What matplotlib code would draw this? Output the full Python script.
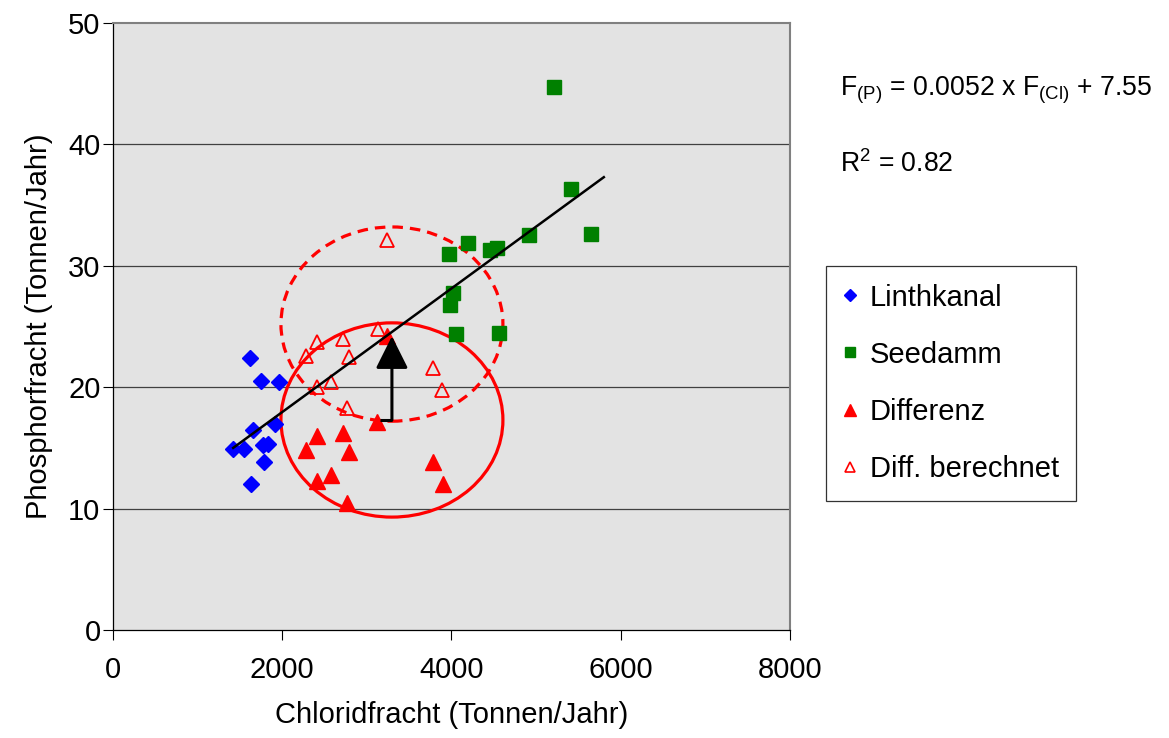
import matplotlib
matplotlib.use("Agg")
import matplotlib.pyplot as plt
from matplotlib.patches import Ellipse, FancyArrowPatch
from matplotlib.lines import Line2D

plt.rcParams['font.family'] = ['Liberation Sans', 'DejaVu Sans']
plt.rcParams['mathtext.fontset'] = 'custom'
plt.rcParams['mathtext.rm'] = 'Liberation Sans'

# ---- data ----
linth_x = [1618, 1748, 1961, 1654, 1914, 1418, 1548, 1772, 1831, 1784, 1630]
linth_y = [22.4, 20.5, 20.4, 16.5, 17.0, 14.9, 14.9, 15.2, 15.3, 13.8, 12.0]

seed_x = [5210, 5410, 5647, 4914, 4194, 3969, 4454, 4536, 4016, 3981, 4052, 4560]
seed_y = [44.7, 36.3, 32.6, 32.5, 31.9, 31.0, 31.3, 31.5, 27.8, 26.8, 24.4, 24.5]

diff_x = [3236, 3119, 2410, 2717, 2280, 2788, 2410, 2575, 2764, 3780, 3898]
diff_y = [24.2, 17.1, 16.0, 16.2, 14.8, 14.7, 12.3, 12.8, 10.5, 13.8, 12.0]

calc_x = [3130, 3237, 2410, 2717, 2280, 2788, 2410, 2575, 2764, 3780, 3887]
calc_y = [24.8, 32.1, 23.7, 24.0, 22.6, 22.5, 20.0, 20.4, 18.3, 21.6, 19.8]

trend_x = [1420, 5800]
trend_y = [15.0, 37.3]

ell_center_x = 3296
ell_solid_y = 17.3
ell_dashed_y = 25.2
ell_w = 2623
ell_h = 16.0

arrow_x0, arrow_y0 = 3150, 17.3
arrow_x1, arrow_y1 = 3296, 24.2

x_ticks = [0, 2000, 4000, 6000, 8000]
y_ticks = [0, 10, 20, 30, 40, 50]

W, H = 1169, 738
fig = plt.figure(figsize=(W / 100, H / 100), dpi=100)
ax = fig.add_axes([113 / W, 1 - 630 / H, (790 - 113) / W, (630 - 23) / H])
ax.set_facecolor('#E3E3E3')
ax.set_xlim(0, 8000)
ax.set_ylim(0, 50)
ax.set_xticks(x_ticks)
ax.set_yticks(y_ticks)
ax.tick_params(axis='both', labelsize=21, direction='out', length=7, width=0.8, color='black')
ax.tick_params(axis='y', pad=2)
ax.tick_params(axis='x', pad=12)
for yv in y_ticks[1:-1]:
    ax.axhline(yv, color='#404040', lw=0.9, zorder=1)
for s in ['left', 'bottom']:
    ax.spines[s].set_color('black')
    ax.spines[s].set_linewidth(0.9)
for s in ['top', 'right']:
    ax.spines[s].set_color('#808080')
    ax.spines[s].set_linewidth(1.5)

ax.set_xlabel('Chloridfracht (Tonnen/Jahr)', fontsize=21, labelpad=12)
ax.set_ylabel('Phosphorfracht (Tonnen/Jahr)', fontsize=21, labelpad=11)

ax.add_patch(Ellipse((ell_center_x, ell_solid_y), ell_w, ell_h, fill=False,
                     ec='#FF0000', lw=2.3, zorder=3))
ax.add_patch(Ellipse((ell_center_x, ell_dashed_y), ell_w, ell_h, fill=False,
                     ec='#FF0000', lw=2.3, ls=(0, (3.3, 2.2)), zorder=3))

ax.plot(linth_x, linth_y, ls='none', marker='D', ms=7.8, color='#0000FF', mec='#0000FF', zorder=4)
ax.plot(seed_x, seed_y, ls='none', marker='s', ms=9.5, color='#008000', mec='#008000', zorder=4)
ax.plot(diff_x, diff_y, ls='none', marker='^', ms=11, color='#FF0000', mec='#FF0000', zorder=4)
ax.plot(calc_x, calc_y, ls='none', marker='^', ms=10, mfc='none', mec='#FF0000', mew=1.3, zorder=4)

ax.plot(trend_x, trend_y, color='black', lw=1.8, zorder=5)

ax.plot([arrow_x0, arrow_x1], [arrow_y0, arrow_y0], color='black', lw=2.2, zorder=5,
        solid_capstyle='butt')
arr = FancyArrowPatch((arrow_x1, arrow_y0), (arrow_x1, arrow_y1),
                      arrowstyle='-|>,head_length=1.0,head_width=0.5',
                      mutation_scale=20, color='black', lw=2.2, zorder=6,
                      shrinkA=0, shrinkB=0)
ax.add_patch(arr)

handles = [
    Line2D([], [], ls='none', marker='D', ms=6, color='#0000FF'),
    Line2D([], [], ls='none', marker='s', ms=7, color='#008000'),
    Line2D([], [], ls='none', marker='^', ms=8, color='#FF0000'),
    Line2D([], [], ls='none', marker='^', ms=7, mfc='none', mec='#FF0000', mew=1.2),
]
labels = ['Linthkanal', 'Seedamm', 'Differenz', 'Diff. berechnet']
leg = fig.legend(handles, labels, loc='upper left', bbox_to_anchor=(826 / W, 1 - 266 / H),
                 fontsize=21, frameon=True, fancybox=False, edgecolor='black',
                 handlelength=0.45, handletextpad=0.45, labelspacing=1.0,
                 borderpad=0.6, borderaxespad=0)
leg.get_frame().set_linewidth(0.9)

fig.text(840 / W, 1 - 96 / H,
         r'F$_{\mathregular{(P)}}$ = 0.0052 x F$_{\mathregular{(Cl)}}$ + 7.55',
         fontsize=19.2, va='baseline', ha='left')
fig.text(840 / W, 1 - 172 / H, r'R$^{\mathregular{2}}$ = 0.82',
         fontsize=19.2, va='baseline', ha='left')

fig.savefig('out.png', dpi=100)
